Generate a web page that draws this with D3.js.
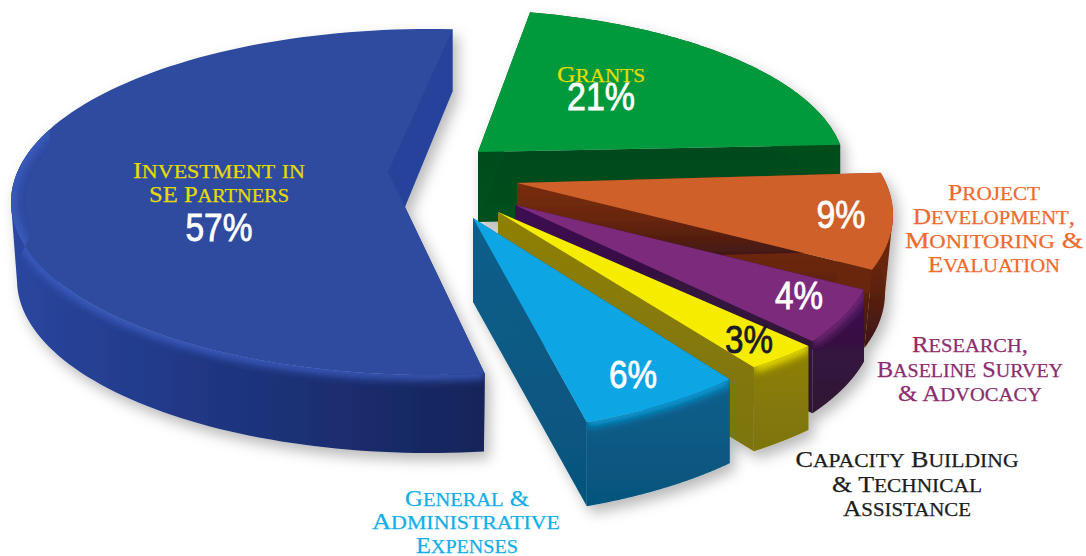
<!DOCTYPE html>
<html>
<head>
<meta charset="utf-8">
<script src="https://cdn.jsdelivr.net/npm/d3@7"></script>
<style>
html,body{margin:0;padding:0;background:#fff}
svg{display:block}
.name{font-family:"Liberation Serif",serif;font-size:23px;stroke-width:0.25px}
.name .low{font-variant:small-caps;font-size:27px}
.pct{font-family:"Liberation Sans Narrow","Liberation Sans",sans-serif;font-size:39px;stroke-width:0.8px}
</style>
</head>
<body>
<script>
// Expense shares, in drawing order around the pie
const categories = ["Investment in SE Partners","Grants","Project Development, Monitoring & Evaluation","Research, Baseline Survey & Advocacy","Capacity Building & Technical Assistance","General & Administrative Expenses"];
const shares = [57,21,9,4,3,6];

// Caption lines: text, centre x, baseline y, fitted width
const captionLines = [
  [["Investment in",219,178,172],["SE Partners",219,202,140]],
  [["Grants",601,82,88]],
  [["Project",994,200,92],["Development,",994,224,162],["Monitoring &",994,248,178],["Evaluation",994,272,132]],
  [["Research,",970,352,116],["Baseline Survey",970,377,186],["& Advocacy",970,401,144]],
  [["Capacity Building",907,467,223],["& Technical",907,492,150],["Assistance",907,516,128]],
  [["General &",467,506,124],["Administrative",466,529,188],["Expenses",467,553,102]]
];
const captionColors = ["#e6dc00","#e6dc00","#ef6a2e","#8c2d6e","#1c1c1c","#12aee8"];

// Percent label placement: centre x, baseline y, fitted width, colour
const pctPlace = [[219,241,67,"#fff"],[601,110,68,"#fff"],[841,228,49,"#fff"],[799,309,48,"#fff"],[749,353,48,"#1a1a2a"],[633,388,48,"#fff"]];

// Exploded-slice layout: ellipse centre and radii, arc sweep in degrees clockwise from north,
// point of the wedge, thickness, and a sideways lean of the wall towards the centre
const slices = [
  {cx:430,cy:202,rx:419,ry:173,arc:[172.5,363.1],tip:[405,207],depth:78,lean:-6,wallTo:295,top:"#2d4ba0",wall:"wallBlue",rim:"#3d5fc4"},
  {cx:450,cy:170,rx:395,ry:161,arc:[11.7,81],tip:[478,152],depth:70,lean:0,wallTo:null,top:"#069a3e",wall:"wallGreen",rim:null},
  {cx:500,cy:215,rx:393,ry:170,arc:[75.6,108.8],tip:[517,183],depth:78,lean:-8,wallTo:null,top:"#cf6029",wall:"wallOrange",rim:null},
  {cx:475,cy:250,rx:400,ry:170,arc:[103.5,122.5],tip:[515,205],depth:72,lean:0,wallTo:null,top:"#7b2a7b",wall:"wallPurple",rim:"#7b2a7b"},
  {cx:519,cy:231,rx:393,ry:170,arc:[132.6,143.3],tip:[498,212],depth:84,lean:0,wallTo:null,top:"#f5ec00",wall:"wallYellow",rim:"#f5ec00"},
  {cx:437,cy:260,rx:400,ry:175,arc:[133,158],tip:[473,218],depth:84,lean:0,wallTo:null,top:"#08a5e3",wall:"wallCyan",rim:"#08a5e3"}
];

const svg = d3.select("body").append("svg").attr("width",1086).attr("height",556);
const defs = svg.append("defs");

function gradient(id,x2,y2,stops){
  const g = defs.append("linearGradient").attr("id",id).attr("x1",0).attr("y1",0).attr("x2",x2).attr("y2",y2);
  stops.forEach(([o,c])=>g.append("stop").attr("offset",o).attr("stop-color",c));
}
gradient("wallBlue",1,0,[[0,"#2a469f"],[0.45,"#1f3580"],[1,"#16245a"]]);
gradient("wallGreen",0,1,[[0,"#04491e"],[1,"#06501f"]]);
gradient("wallOrange",0,1,[[0,"#7d300c"],[0.5,"#6a260e"],[1,"#3c1614"]]);
gradient("wallPurple",0,1,[[0,"#3d0c55"],[0.5,"#35123f"],[1,"#2f1433"]]);
gradient("wallYellow",0,1,[[0,"#8f8006"],[1,"#7c7408"]]);
gradient("wallCyan",0,1,[[0,"#0a5f8c"],[1,"#06547c"]]);

const shadow = defs.append("filter").attr("id","shade").attr("x","-10%").attr("y","-10%").attr("width","120%").attr("height","125%");
shadow.append("feDropShadow").attr("dx",5).attr("dy",7).attr("stdDeviation",7).attr("flood-color","#000").attr("flood-opacity",0.28);
defs.append("filter").attr("id","soft").attr("x","-10%").attr("y","-50%").attr("width","120%").attr("height","200%")
  .append("feGaussianBlur").attr("stdDeviation",4);
defs.append("filter").attr("id","edge").append("feGaussianBlur").attr("stdDeviation",0.6);

const arcs = d3.pie().sort(null).value(d=>d).startAngle(0).endAngle(2*Math.PI)(shares);
const toPath = d3.line();

// Each wedge is warped from its share of the circle onto its foreshortened sweep
function outerPoints(s,d,limit=null){
  const sweep = d3.scaleLinear().domain([d.startAngle,d.endAngle]).range(s.arc);
  const steps = d3.range(0,121).map(i=>d.startAngle+(d.endAngle-d.startAngle)*i/120);
  let pts = steps.map(t=>sweep(t));
  if(limit!==null) pts = pts.filter(a=>a<=limit);
  return pts.map(a=>{
    const r = a*Math.PI/180;
    return [s.cx+s.rx*Math.sin(r), s.cy-s.ry*Math.cos(r)];
  });
}

const pieG = svg.append("g").attr("filter","url(#shade)");
const inner = pieG.append("g").attr("filter","url(#edge)");

slices.forEach((s,i)=>{
  const d = arcs[i];
  const g = inner.append("g").attr("class","slice");
  const rim = outerPoints(s,d);
  const first = rim[0], last = rim[rim.length-1];
  const wall = `url(#${s.wall})`;
  const drop = p=>[p[0]+s.lean*(p[0]-s.cx)/s.rx,p[1]+s.depth];

  // Thickness under the two cut edges
  if(i!==0){
    g.append("path").attr("d",toPath([s.tip,last,drop(last),drop(s.tip)])+"Z").attr("fill",wall);
    g.append("path").attr("d",toPath([s.tip,first,drop(first),drop(s.tip)])+"Z").attr("fill",wall);
  } else {
    g.append("path").attr("d",toPath([s.tip,first,drop(first),drop(s.tip)])+"Z").attr("fill","#1a2a66");
  }
  // Thickness under the outer rim; a leaning wall also needs its silhouette closed at the widest point
  const front = s.wallTo===null ? rim : outerPoints(s,d,s.wallTo);
  const strip = toPath(front.concat(front.map(drop).reverse()))+"Z";
  if(s.lean!==0){
    const widest = d3.greatest(front,p=>Math.abs(p[0]-s.cx));
    const low = drop(widest);
    const inward = Math.sign(s.cx-widest[0])*50;
    g.append("path").attr("d",toPath([widest,low,[low[0]+inward,low[1]],[widest[0]+inward,widest[1]]])+"Z")
      .attr("fill",i===0?"#2a469f":"#6a260e");
  }
  g.append("path").attr("d",strip).attr("fill",wall);

  // Top face
  g.append("path").attr("d",toPath([s.tip].concat(rim))+"Z").attr("fill",s.top);

  // Bevelled rim blending the top into the wall, kept inside the wall's outline
  if(s.rim){
    defs.append("clipPath").attr("id","rimClip"+i).append("path").attr("d",strip);
    g.append("g").attr("clip-path",`url(#rimClip${i})`)
      .append("path").attr("d",toPath(front)).attr("fill","none")
      .attr("stroke",s.rim).attr("stroke-width",9).attr("filter","url(#soft)");
  }
  // Inner face of the large wedge, seen through the notch at the top
  if(i===0){
    const notch = [last,[last[0],last[1]+62],s.tip,[s.tip[0]-17,s.tip[1]-35]];
    g.append("path").attr("d",toPath(notch)+"Z").attr("fill","#25429a");
  }
});

// Captions: capitals stay full height, lower-case runs are set as small capitals
captionLines.forEach((lines,i)=>{
  const text = svg.append("g").attr("class","caption").attr("data-category",categories[i])
    .selectAll("text").data(lines).join("text")
    .attr("class","name").attr("text-anchor","middle")
    .attr("x",l=>l[1]).attr("y",l=>l[2])
    .attr("textLength",l=>l[3]).attr("lengthAdjust","spacingAndGlyphs")
    .attr("fill",captionColors[i]).attr("stroke",captionColors[i]);
  text.each(function(l){
    const node = d3.select(this);
    (l[0].match(/[a-z]+|[^a-z]+/g)||[]).forEach(run=>{
      node.append("tspan").attr("class",/[a-z]/.test(run)?"low":null).text(run);
    });
  });
});

// Percent labels
svg.append("g").selectAll("text").data(shares).join("text")
  .attr("class","pct").attr("text-anchor","middle")
  .attr("x",(v,i)=>pctPlace[i][0]).attr("y",(v,i)=>pctPlace[i][1])
  .attr("textLength",(v,i)=>pctPlace[i][2]).attr("lengthAdjust","spacingAndGlyphs")
  .attr("fill",(v,i)=>pctPlace[i][3]).attr("stroke",(v,i)=>pctPlace[i][3]).text(v=>v+"%");
</script>
</body>
</html>
